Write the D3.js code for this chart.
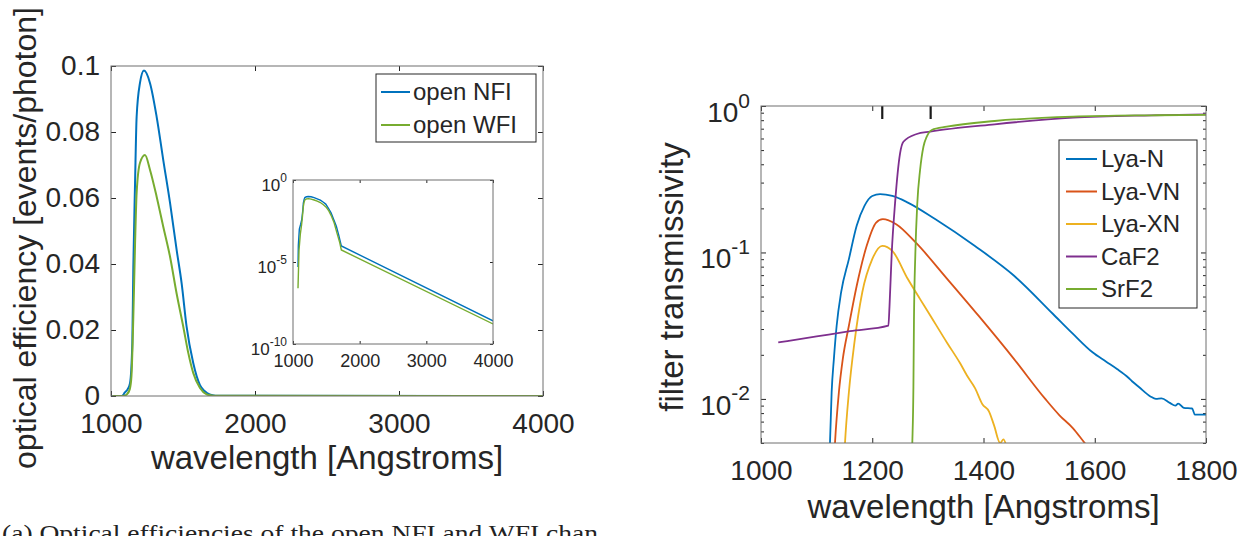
<!DOCTYPE html>
<html><head><meta charset="utf-8">
<script src="https://cdn.jsdelivr.net/npm/d3@7"></script>
<style>
body{margin:0;background:#fff;}
svg{display:block;}
</style>
</head><body>
<svg id="c" width="1257" height="536"></svg>
<script>
// ---------- DATA ----------
// Left panel: optical efficiency (events/photon)
const nfiWavelength = [1010,1075,1080,1095,1115,1132,1148,1155,1167,1178,1201,1229,1271,1317,1363,1410,1456,1491,1525,1571,1618,1650,1685,1725,4000];
const nfiEfficiency = [0,5e-6,1e-4,1e-3,2e-3,0.0039,0.016,0.039,0.0645,0.0846,0.0948,0.0986,0.0948,0.0846,0.0715,0.0585,0.0442,0.034,0.021,0.010,0.0033,0.0015,4.5e-4,9.5e-5,2.6e-9];
const wfiWavelength = [1010,1075,1090,1110,1130,1142,1155,1167,1178,1201,1236,1271,1317,1363,1410,1456,1502,1537,1571,1618,1664,1700,1725,4000];
const wfiEfficiency = [0,2.5e-7,5e-5,5e-4,0.002,0.006,0.024,0.046,0.0615,0.0706,0.073,0.0685,0.0604,0.0513,0.0422,0.031,0.021,0.013,0.007,0.0024,5e-4,1.6e-4,5.4e-5,1.66e-9];
const leftSeriesNames = ["open NFI","open WFI"];
const leftXTicks = [1000,2000,3000,4000];
const leftYTicks = [0,0.02,0.04,0.06,0.08,0.1];
const leftYTickLabels = ["0","0.02","0.04","0.06","0.08","0.1"];
const insetXTicks = [1000,2000,3000,4000];
const insetYTicks = [1e-10,1e-5,1];
const insetYExponents = ["-10","-5","0"];

// Right panel: filter transmissivity
const filterNames = ["Lya-N","Lya-VN","Lya-XN","CaF2","SrF2"];
const lyaNWavelength = [1120,1124,1127,1131,1136,1144,1158,1172,1186,1200,1214,1236,1264,1313,1384,1455,1525,1560,1596,1620,1640,1660,1667,1680,1700,1710,1720,1735,1745,1750,1760,1775,1780,1800];
const lyaNTrans = [0.003,0.005,0.0111,0.0187,0.0316,0.0533,0.090,0.152,0.208,0.243,0.25,0.243,0.219,0.169,0.111,0.0693,0.038,0.028,0.0208,0.0180,0.0160,0.0140,0.0132,0.0120,0.0104,0.0100,0.0101,0.0094,0.0090,0.0093,0.0087,0.0086,0.0078,0.0078];
const lyaVNWavelength = [1130,1133,1140,1147,1158,1172,1190,1207,1219,1243,1278,1335,1391,1455,1511,1537,1561,1582,1590];
const lyaVNTrans = [0.003,0.005,0.0111,0.0187,0.0316,0.059,0.111,0.160,0.169,0.156,0.117,0.0658,0.037,0.0187,0.0100,0.0077,0.0063,0.0050,0.0046];
const lyaXNWavelength = [1148,1151,1158,1168,1182,1200,1218,1236,1264,1286,1299,1335,1358,1370,1385,1398,1410,1419,1430,1436,1442];
const lyaXNTrans = [0.003,0.005,0.0111,0.0243,0.0533,0.090,0.111,0.1026,0.0658,0.048,0.040,0.024,0.0175,0.0145,0.0118,0.0092,0.0082,0.0066,0.0050,0.0053,0.0046];
const caf2Wavelength = [1031,1100,1160,1229,1231,1235,1241,1250,1256,1280,1304,1420,1561,1702,1800];
const caf2Trans = [0.0243,0.0267,0.029,0.0316,0.0427,0.0988,0.217,0.475,0.57,0.644,0.668,0.75,0.833,0.864,0.877];
const srf2Wavelength = [1270,1272,1274,1275,1277.5,1281,1286,1292,1298,1307,1334,1420,1561,1702,1800];
const srf2Trans = [0.003,0.005,0.0121,0.0346,0.099,0.217,0.366,0.527,0.617,0.686,0.722,0.79,0.846,0.864,0.87];
const rightXTicks = [1000,1200,1400,1600,1800];
const rightYTicks = [0.01,0.1,1];
const rightYExponents = ["-2","-1","0"];
const lineMarkerWavelengths = [1218,1305];

const captionText = "(a) Optical efficiencies of the open NFI and WFI chan";

// ---------- STYLE ----------
const FONT = '"Liberation Sans", Arial, Helvetica, sans-serif';
const TXT = "#262626";
const AX = "#6e6e6e";
const C = {blue:"#0072BD", orange:"#D95319", yellow:"#EDB120", purple:"#7E2F8E", green:"#77AC30"};

const svg = d3.select("#c");
const zip = (xs, ys) => xs.map((x,i)=>({x, y:ys[i]}));

function styleAxis(sel, size){
  sel.attr("font-family", null).attr("font-size", null);
  sel.select(".domain").remove();
  sel.selectAll(".tick line").attr("stroke", TXT).attr("stroke-width", 1);
  sel.selectAll(".tick text").attr("fill", TXT).style("font-family", FONT).style("font-size", size+"px");
}
function supLabels(sel, exps, baseSize, supSize, baseDy, supDy){
  sel.selectAll(".tick text").each(function(d,i){
    const t = d3.select(this);
    t.text(null).attr("dy", null).attr("y", 0);
    t.append("tspan").attr("dy", baseDy).style("font-size", baseSize+"px").text("10");
    t.append("tspan").attr("dy", supDy).style("font-size", supSize+"px").text(exps[i]);
  });
}
function clip(id, b){
  svg.append("clipPath").attr("id", id).append("rect")
    .attr("x", b.x0).attr("y", b.y0).attr("width", b.x1-b.x0).attr("height", b.y1-b.y0);
}

// ---------- LEFT PANEL ----------
const L = {x0:111, y0:66, x1:543, y1:396};
const xL = d3.scaleLinear().domain([1000,4000]).range([L.x0,L.x1]);
const yL = d3.scaleLinear().domain([0,0.1]).range([L.y1,L.y0]);
clip("clipL", L);

svg.append("g").attr("transform",`translate(0,${L.y1})`)
  .call(d3.axisBottom(xL).tickValues(leftXTicks).tickSize(-5).tickPadding(17).tickFormat(d3.format("d")))
  .call(styleAxis, 28);
svg.append("g").attr("transform",`translate(0,${L.y0})`)
  .call(d3.axisTop(xL).tickValues(leftXTicks).tickSize(-5).tickFormat(""))
  .call(styleAxis, 28);
svg.append("g").attr("transform",`translate(${L.x0},0)`)
  .call(d3.axisLeft(yL).tickValues(leftYTicks).tickSize(-5).tickPadding(11).tickFormat((d,i)=>leftYTickLabels[i]))
  .call(styleAxis, 28);
svg.append("g").attr("transform",`translate(${L.x1},0)`)
  .call(d3.axisRight(yL).tickValues(leftYTicks).tickSize(-5).tickFormat(""))
  .call(styleAxis, 28);

const lineL = d3.line().x(d=>xL(d.x)).y(d=>yL(d.y)).curve(d3.curveMonotoneX);
const leftSeries = [
  {name:leftSeriesNames[0], color:C.blue, data:zip(nfiWavelength,nfiEfficiency)},
  {name:leftSeriesNames[1], color:C.green, data:zip(wfiWavelength,wfiEfficiency)}
];
const gL = svg.append("g").attr("clip-path","url(#clipL)");
leftSeries.forEach(s=>{
  gL.append("path").datum(s.data).attr("d", lineL).attr("fill","none")
    .attr("stroke", s.color).attr("stroke-width", 2);
});
svg.append("rect").attr("x",L.x0).attr("y",L.y0).attr("width",L.x1-L.x0).attr("height",L.y1-L.y0)
  .attr("fill","none").attr("stroke",AX).attr("stroke-width",1);

// legend left
const legL = svg.append("g");
legL.append("rect").attr("x",376).attr("y",74).attr("width",160).attr("height",68)
  .attr("fill","#fff").attr("stroke",TXT).attr("stroke-width",1);
leftSeries.forEach((s,i)=>{
  const yy = 92 + i*33;
  legL.append("line").attr("x1",381).attr("x2",410).attr("y1",yy).attr("y2",yy).attr("stroke",s.color).attr("stroke-width",2);
  legL.append("text").attr("x",413).attr("y",yy).attr("dy","0.35em").attr("fill",TXT)
    .style("font-family",FONT).style("font-size","24px").text(s.name);
});

// axis titles left
svg.append("text").attr("x",(L.x0+L.x1)/2).attr("y",469).attr("text-anchor","middle").attr("fill",TXT)
  .style("font-family",FONT).style("font-size","33px").text("wavelength [Angstroms]");
svg.append("text").attr("transform","translate(36,238) rotate(-90)").attr("text-anchor","middle").attr("fill",TXT)
  .style("font-family",FONT).style("font-size","32px").text("optical efficiency [events/photon]");

// ---------- INSET ----------
const I = {x0:293, y0:180, x1:493, y1:344};
const xI = d3.scaleLinear().domain([1000,4000]).range([I.x0,I.x1]);
const yI = d3.scaleLog().domain([1e-10,1]).range([I.y1,I.y0]);
clip("clipI", I);
svg.append("rect").attr("x",I.x0).attr("y",I.y0).attr("width",I.x1-I.x0).attr("height",I.y1-I.y0).attr("fill","#fff");
svg.append("g").attr("transform",`translate(0,${I.y1})`)
  .call(d3.axisBottom(xI).tickValues(insetXTicks).tickSize(-3).tickPadding(10).tickFormat(d3.format("d")))
  .call(styleAxis, 18);
svg.append("g").attr("transform",`translate(0,${I.y0})`)
  .call(d3.axisTop(xI).tickValues(insetXTicks).tickSize(-3).tickFormat(""))
  .call(styleAxis, 18);
svg.append("g").attr("transform",`translate(${I.x0},0)`)
  .call(d3.axisLeft(yI).tickValues(insetYTicks).tickSize(-3).tickPadding(6).tickFormat(()=>""))
  .call(styleAxis, 17)
  .call(supLabels, insetYExponents, 17, 12, 10, -8.5);
svg.append("g").attr("transform",`translate(${I.x1},0)`)
  .call(d3.axisRight(yI).tickValues(insetYTicks).tickSize(-3).tickFormat(""))
  .call(styleAxis, 17);
const lineI = d3.line().x(d=>xI(d.x)).y(d=>yI(d.y)).curve(d3.curveLinear);
const gI = svg.append("g").attr("clip-path","url(#clipI)");
leftSeries.forEach(s=>{
  gI.append("path").datum(s.data.filter(d=>d.y>0)).attr("d", lineI).attr("fill","none")
    .attr("stroke", s.color).attr("stroke-width", 1.4);
});
svg.append("rect").attr("x",I.x0).attr("y",I.y0).attr("width",I.x1-I.x0).attr("height",I.y1-I.y0)
  .attr("fill","none").attr("stroke",AX).attr("stroke-width",1);

// ---------- RIGHT PANEL ----------
const R = {x0:761, y0:106, x1:1206, y1:443};
const xR = d3.scaleLinear().domain([1000,1800]).range([R.x0,R.x1]);
const yR = d3.scaleLog().domain([0.005,1]).range([R.y1,R.y0]);
clip("clipR", R);
const minorR = [];
[-3,-2,-1].forEach(e=>{ for(let k=2;k<=9;k++){ const v=k*Math.pow(10,e); if(v>=0.005 && v<1) minorR.push(v);} });

svg.append("g").attr("transform",`translate(0,${R.y1})`)
  .call(d3.axisBottom(xR).tickValues(rightXTicks).tickSize(-5).tickPadding(17).tickFormat(d3.format("d")))
  .call(styleAxis, 28);
svg.append("g").attr("transform",`translate(0,${R.y0})`)
  .call(d3.axisTop(xR).tickValues(rightXTicks).tickSize(-5).tickFormat(""))
  .call(styleAxis, 28);
svg.append("g").attr("transform",`translate(${R.x0},0)`)
  .call(d3.axisLeft(yR).tickValues(rightYTicks).tickSize(-5).tickPadding(11).tickFormat(()=>""))
  .call(styleAxis, 28)
  .call(supLabels, rightYExponents, 28, 21, 15.5, -14.5);
svg.append("g").attr("transform",`translate(${R.x1},0)`)
  .call(d3.axisRight(yR).tickValues(rightYTicks).tickSize(-5).tickFormat(""))
  .call(styleAxis, 28);
svg.append("g").attr("transform",`translate(${R.x0},0)`)
  .call(d3.axisLeft(yR).tickValues(minorR).tickSize(-3).tickFormat(""))
  .call(styleAxis, 28);
svg.append("g").attr("transform",`translate(${R.x1},0)`)
  .call(d3.axisRight(yR).tickValues(minorR).tickSize(-3).tickFormat(""))
  .call(styleAxis, 28);

const rightSeries = [
  {name:filterNames[0], color:C.blue, data:zip(lyaNWavelength,lyaNTrans)},
  {name:filterNames[1], color:C.orange, data:zip(lyaVNWavelength,lyaVNTrans)},
  {name:filterNames[2], color:C.yellow, data:zip(lyaXNWavelength,lyaXNTrans)},
  {name:filterNames[3], color:C.purple, data:zip(caf2Wavelength,caf2Trans)},
  {name:filterNames[4], color:C.green, data:zip(srf2Wavelength,srf2Trans)}
];
const lineR = d3.line().x(d=>xR(d.x)).y(d=>yR(d.y)).curve(d3.curveMonotoneX);
const gR = svg.append("g").attr("clip-path","url(#clipR)");
rightSeries.forEach(s=>{
  gR.append("path").datum(s.data).attr("d", lineR).attr("fill","none")
    .attr("stroke", s.color).attr("stroke-width", 1.8);
});
svg.append("g").selectAll("line").data(lineMarkerWavelengths).join("line")
  .attr("x1",d=>xR(d)).attr("x2",d=>xR(d)).attr("y1",R.y0).attr("y2",R.y0+13)
  .attr("stroke","#1a1a1a").attr("stroke-width",2.2);
svg.append("rect").attr("x",R.x0).attr("y",R.y0).attr("width",R.x1-R.x0).attr("height",R.y1-R.y0)
  .attr("fill","none").attr("stroke",AX).attr("stroke-width",1);

// legend right
const legR = svg.append("g");
legR.append("rect").attr("x",1059).attr("y",140).attr("width",138).attr("height",168)
  .attr("fill","#fff").attr("stroke",TXT).attr("stroke-width",1);
rightSeries.forEach((s,i)=>{
  const yy = 159 + i*32.5;
  legR.append("line").attr("x1",1066).attr("x2",1097).attr("y1",yy).attr("y2",yy).attr("stroke",s.color).attr("stroke-width",2);
  legR.append("text").attr("x",1101).attr("y",yy).attr("dy","0.35em").attr("fill",TXT)
    .style("font-family",FONT).style("font-size","24px").text(s.name);
});

svg.append("text").attr("x",(R.x0+R.x1)/2).attr("y",518).attr("text-anchor","middle").attr("fill",TXT)
  .style("font-family",FONT).style("font-size","33px").text("wavelength [Angstroms]");
svg.append("text").attr("transform","translate(683,277) rotate(-90)").attr("text-anchor","middle").attr("fill",TXT)
  .style("font-family",FONT).style("font-size","33px").text("filter transmissivity");

// caption (cut off at the bottom edge, as in the source page)
svg.append("text").attr("x",2).attr("y",541).attr("fill","#222")
  .attr("textLength",596).attr("lengthAdjust","spacingAndGlyphs")
  .style("font-family",'"Liberation Serif", "DejaVu Serif", serif').style("font-size","23px").text(captionText);
</script>
</body></html>
